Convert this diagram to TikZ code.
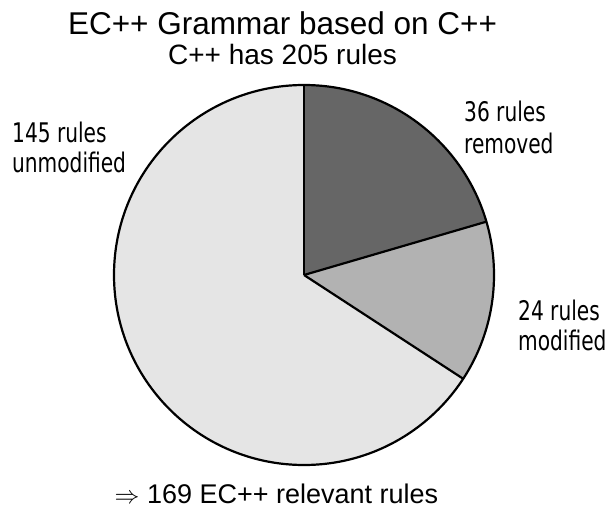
\documentclass[tikz,border=0pt]{standalone}
\usepackage{fontspec}
\setmainfont{Liberation Sans}
\newfontfamily\labfont[FakeStretch=0.83]{DejaVu Sans Condensed}
\begin{document}
\begin{tikzpicture}[x=1pt,y=1pt,
  slice/.style={draw=black,line width=2.2pt,line join=round},
  lab/.style={font=\labfont\fontsize{27}{31}\selectfont,inner sep=0pt,anchor=base west},
  ttl/.style={inner sep=0pt,anchor=base}]
\useasboundingbox (0,0) rectangle (609,509);
\coordinate (c) at (304,234);
\def\R{190}
\fill[fill=black!10] (c) -- ++(90:\R) arc[start angle=90,end angle=326.9,radius=\R] -- cycle;
\fill[fill=black!30] (c) -- ++(16.3:\R) arc[start angle=16.3,end angle=-33.1,radius=\R] -- cycle;
\fill[fill=black!60] (c) -- ++(90:\R) arc[start angle=90,end angle=16.3,radius=\R] -- cycle;
\draw[slice] (c) circle[radius=\R];
\draw[slice] (c) -- ++(90:\R);
\draw[slice] (c) -- ++(16.3:\R);
\draw[slice] (c) -- ++(-33.1:\R);
\node[ttl,font=\fontsize{31.5}{36}\selectfont] (t1) at (282.5,474) {EC++ Grammar based on C++};
\node[ttl,font=\fontsize{28}{32}\selectfont] (t2) at (282.5,444) {C++ has 205 rules};
\node[lab] (l1a) at (464,387.5) {36 rules};
\node[lab] (l1b) at (464,355.5) {removed};
\node[lab] (l2a) at (12,366) {145 rules};
\node[lab] (l2b) at (12,336) {unmodified};
\node[lab] (l3a) at (518,189) {24 rules};
\node[lab] (l3b) at (518,159) {modified};
\node[ttl,font=\fontsize{27}{31}\selectfont] (b) at (276.5,6) {{\fontsize{31}{31}\selectfont$\Rightarrow$} 169 EC++ relevant rules};
\end{tikzpicture}
\end{document}
